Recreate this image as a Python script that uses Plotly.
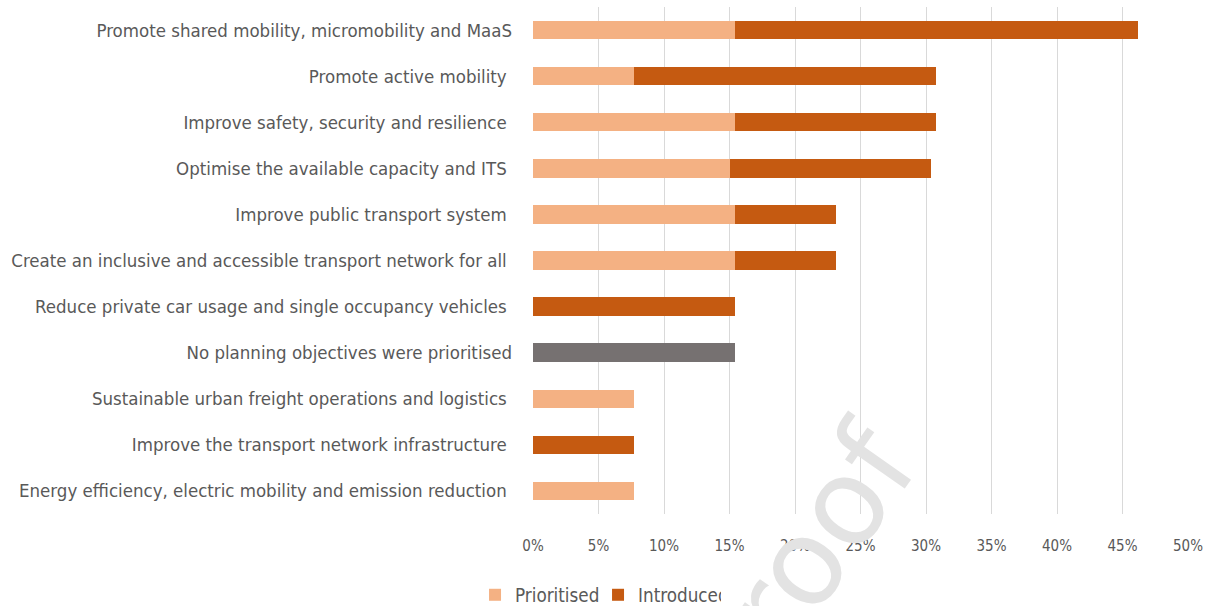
import plotly.graph_objects as go

categories = [
    "Promote shared mobility, micromobility and MaaS",
    "Promote active mobility ",
    "Improve safety, security and resilience ",
    "Optimise the available capacity and ITS ",
    "Improve public transport system ",
    "Create an inclusive and accessible transport network for all ",
    "Reduce private car usage and single occupancy vehicles ",
    "No planning objectives were prioritised",
    "Sustainable urban freight operations and logistics ",
    "Improve the transport network infrastructure ",
    "Energy efficiency, electric mobility and emission reduction ",
]
prioritised = [15.4, 7.7, 15.4, 15.0, 15.4, 15.4, 0, 0, 7.7, 0, 7.7]
introduced = [30.8, 23.1, 15.4, 15.4, 7.7, 7.7, 15.4, 0, 0, 7.7, 0]
none_prioritised = [0, 0, 0, 0, 0, 0, 0, 15.4, 0, 0, 0]
tick_vals = [0, 5, 10, 15, 20, 25, 30, 35, 40, 45, 50]
tick_text = ["0%", "5%", "10%", "15%", "20%", "25%", "30%", "35%", "40%", "45%", "50%"]
watermark = "roof"

FONT = "DejaVu Sans Condensed, sans-serif"
GREY = "#595959"

fig = go.Figure()
fig.add_trace(go.Bar(y=categories, x=prioritised, orientation="h", name="Prioritised",
                     marker=dict(color="#F4B183", line=dict(width=0))))
fig.add_trace(go.Bar(y=categories, x=introduced, orientation="h", name="Introduced",
                     marker=dict(color="#C55A11", line=dict(width=0))))
fig.add_trace(go.Bar(y=categories, x=none_prioritised, orientation="h", name="None",
                     showlegend=False, marker=dict(color="#767171", line=dict(width=0))))

fig.add_annotation(text=watermark, xref="paper", yref="paper", x=0.4384, y=-0.0434,
                   xanchor="center", yanchor="middle", textangle=-55, showarrow=False,
                   font=dict(family="DejaVu Sans, sans-serif", size=120, color="#E3E3E3"))

fig.update_layout(
    barmode="stack",
    bargap=0.60,
    width=1207, height=606,
    margin=dict(l=533, r=19, t=7, b=92, autoexpand=False),
    paper_bgcolor="white", plot_bgcolor="white",
    font=dict(family=FONT, color=GREY, size=18),
    legend=dict(orientation="h", x=-0.0885, xanchor="left",
                yref="paper", y=-0.16, yanchor="middle",
                font=dict(size=18.7, color=GREY), itemwidth=30, traceorder="normal",
                entrywidth=78, tracegroupgap=0),
    xaxis=dict(range=[0, 50], tickvals=tick_vals, ticktext=tick_text,
               showgrid=True, gridcolor="#D9D9D9", gridwidth=1, zeroline=False,
               showline=False, tickfont=dict(size=15, color=GREY), ticks="",
               ticklabelstandoff=21, automargin=False, fixedrange=True),
    yaxis=dict(autorange="reversed", showgrid=False, showline=False, ticks="",
               tickfont=dict(size=18.5, color=GREY), ticklabelstandoff=20,
               automargin=False, fixedrange=True),
)

fig.write_html(
    "out.html",
    config={"displayModeBar": False},
    post_script="document.body.style.margin='0';document.body.style.overflow='hidden';",
)
